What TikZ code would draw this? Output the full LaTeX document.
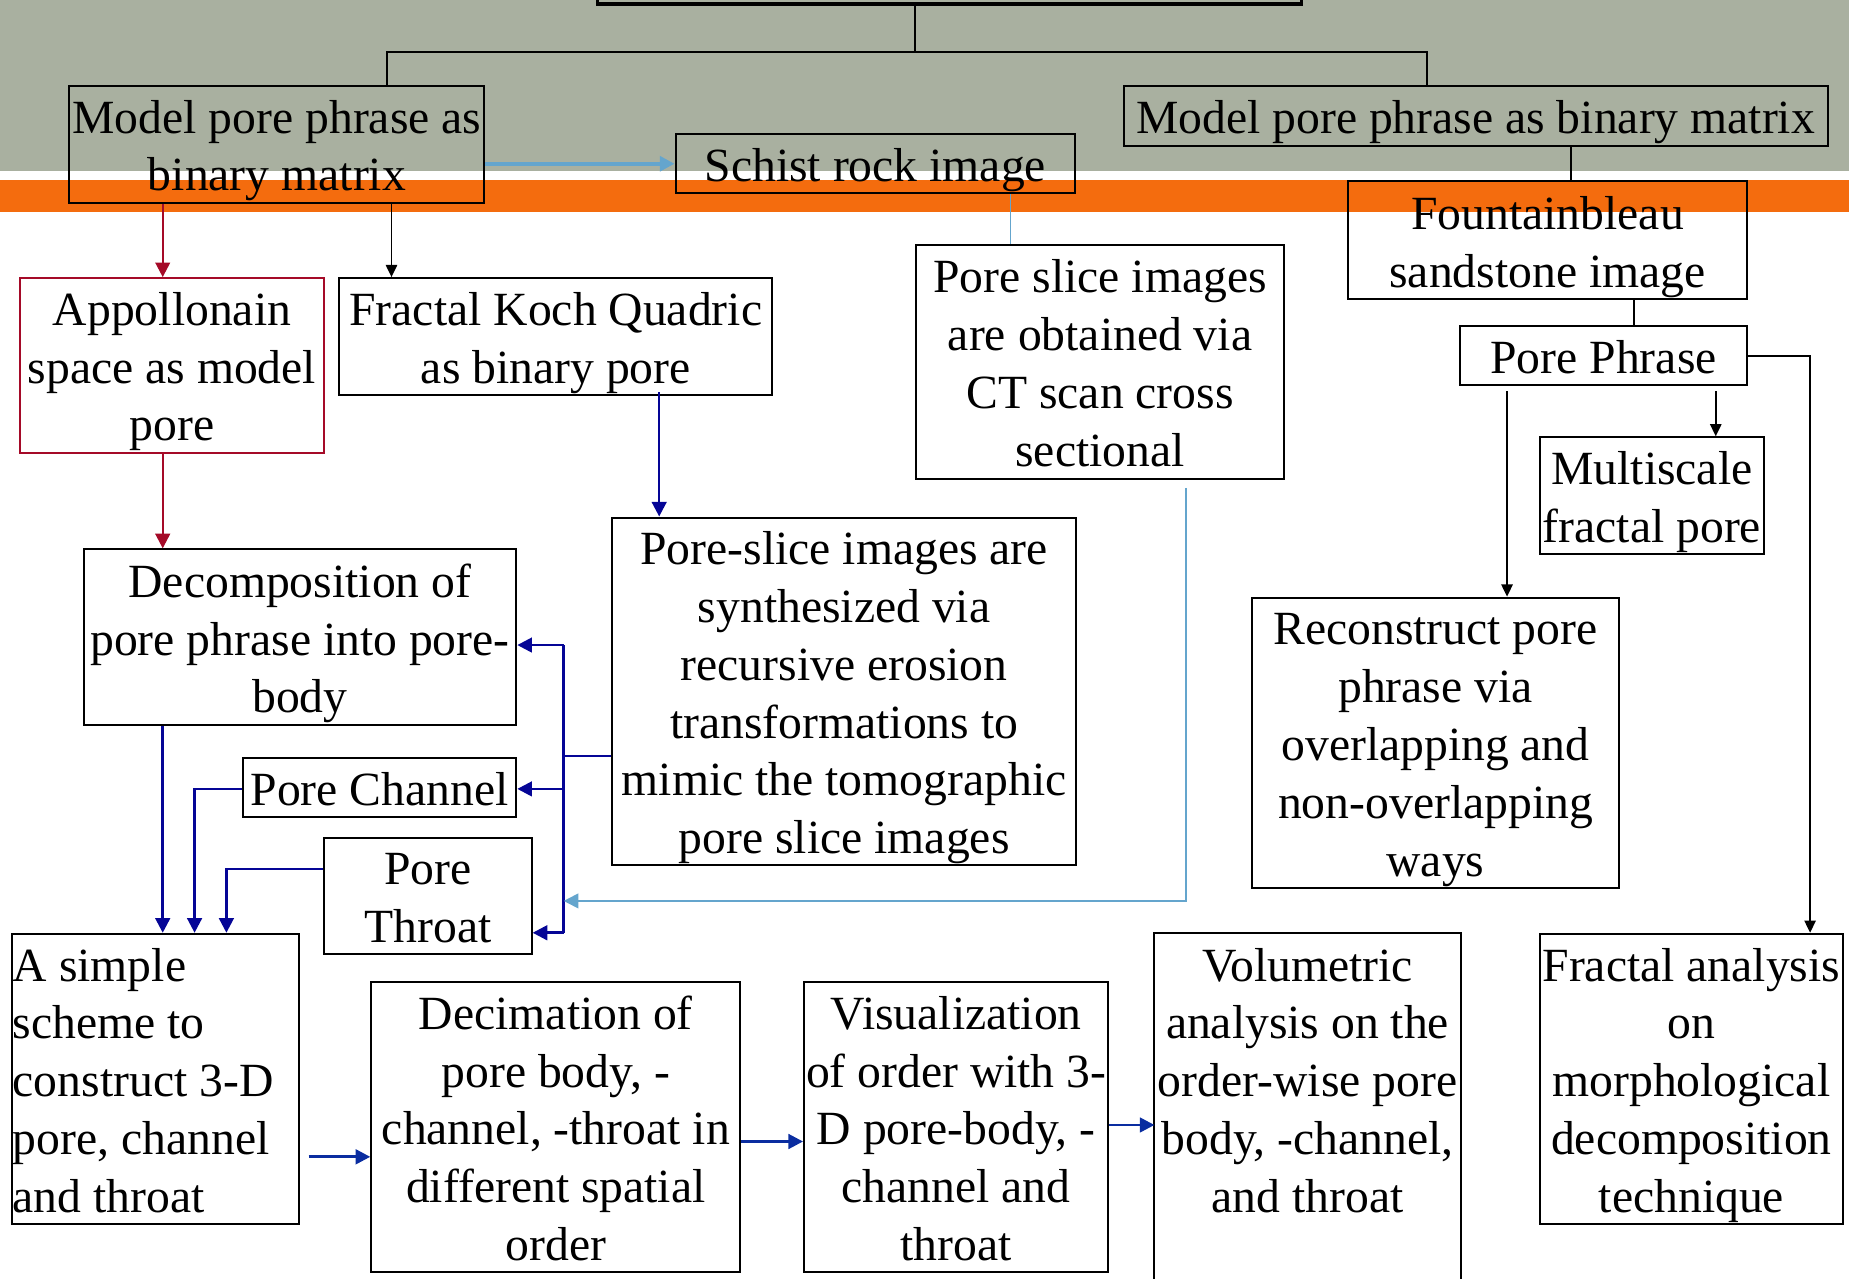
\documentclass[tikz,border=0pt]{standalone}
\usepackage{fontspec}
\setmainfont{Liberation Serif}
\usetikzlibrary{arrows.meta,calc}
\newcommand\fs{\fontsize{20.2pt}{24.5pt}\selectfont}
\newcommand\mys{\vrule width0pt height19.8pt depth4.7pt\relax}
\definecolor{bandgray}{RGB}{169,176,160}
\definecolor{bandorange}{RGB}{244,108,14}
\definecolor{navy}{RGB}{5,5,150}
\definecolor{midblue}{RGB}{10,45,160}
\definecolor{lblue}{RGB}{100,165,205}
\definecolor{dred}{RGB}{165,10,40}
\tikzset{
  box/.style={draw, line width=0.85pt, anchor=north west, inner xsep=0.5pt, inner ysep=0pt,
    align=center, font=\fs},
  arr/.style={-{Triangle[length=6.2pt,width=6.2pt]}},
  sarr/.style={-{Triangle[length=5.2pt,width=4.8pt]}},
  blk/.style={draw=black, line width=0.8pt},
  nv/.style={draw=navy, line width=1.1pt},
  mb/.style={draw=midblue, line width=1.2pt},
  lb/.style={draw=lblue, line width=0.8pt},
  rd/.style={draw=dred, line width=1pt}
}
\begin{document}
\begin{tikzpicture}[x=0.5pt,y=-0.5pt]
\fill[bandgray] (0,0) rectangle (1568,145);
\fill[bandorange] (0,153) rectangle (1568,179.5);
\useasboundingbox (0,0) rectangle (1568,1084);

% nodes
\node[box, line width=1.4pt, minimum width=298.5pt, minimum height=31pt] (root) at (505,-60) {};
\node[box, minimum width=176pt, minimum height=49.5pt] (modelL) at (58,72) {\mys Model pore phrase as\\binary matrix\mys};
\node[box, minimum width=298.5pt, minimum height=25.5pt] (modelR) at (952,72) {\mys Model pore phrase as binary matrix\mys};
\node[box, minimum width=169.5pt, minimum height=25pt] (schist) at (572,113) {\mys Schist rock image\mys};
\node[box, minimum width=169.5pt, minimum height=50pt] (fount) at (1142,153) {\mys Fountainbleau\\sandstone image\mys};
\node[box, minimum width=156pt, minimum height=99pt] (slice) at (776,207) {\mys Pore slice images\\are obtained via\\CT scan cross\\sectional\mys};
\node[box, draw=dred, minimum width=129pt, minimum height=74pt] (appol) at (16,235) {\mys Appollonain\\space as model\\pore\mys};
\node[box, minimum width=183.5pt, minimum height=49.5pt] (koch) at (287,235) {\mys Fractal Koch Quadric\\as binary pore\mys};
\node[box, minimum width=122pt, minimum height=25pt] (phrase) at (1237,276) {\mys Pore Phrase\mys};
\node[box, minimum width=95pt, minimum height=49.5pt] (multi) at (1305,370) {\mys Multiscale\\fractal pore\mys};
\node[box, minimum width=197pt, minimum height=147.5pt] (synth) at (518,438) {\mys Pore-slice images are\\synthesized via\\recursive erosion\\transformations to\\mimic the tomographic\\pore slice images\mys};
\node[box, minimum width=183.5pt, minimum height=74.5pt] (decomp) at (70,465) {\mys Decomposition of\\pore phrase into pore-\\body\mys};
\node[box, minimum width=155.5pt, minimum height=123pt] (recon) at (1061,506) {\mys Reconstruct pore\\phrase via\\overlapping and\\non-overlapping\\ways\mys};
\node[box, minimum width=116pt, minimum height=25pt] (channel) at (205,642) {\mys Pore Channel\mys};
\node[box, minimum width=88pt, minimum height=49pt] (throat) at (274,710) {\mys Pore\\Throat\mys};
\node[box, align=flush left, text width=121pt, minimum height=123pt] (simple) at (9,791) {\mys A simple\\scheme to\\construct 3-D\\pore, channel\\and throat\mys};
\node[box, minimum width=156.5pt, minimum height=123pt] (decim) at (314,832) {\mys Decimation of\\pore body, -\\channel, -throat in\\different spatial\\order\mys};
\node[box, minimum width=129pt, minimum height=123pt] (visual) at (681,832) {\mys Visualization\\of order with 3-\\D pore-body, -\\channel and\\throat\mys};
\node[box, draw=none, minimum width=129pt, minimum height=123pt] (vol) at (979,791) {\mys Volumetric\\analysis on the\\order-wise pore\\body, -channel,\\and throat\mys};
\draw[line width=0.85pt] (vol.north west) rectangle ($(vol.south east)+(0,80)$);
\node[box, minimum width=128.5pt, minimum height=123pt] (fractal) at (1305,791) {\mys Fractal analysis\\on\\morphological\\decomposition\\technique\mys};

% helper coordinates
\coordinate (hub) at (776,44);
\coordinate (hl) at (328,44);
\coordinate (hr) at (1210,44);
\coordinate (x138) at (138,0);
\coordinate (x165) at (165,0);
\coordinate (x192) at (192,0);
\coordinate (x332) at (332,0);
\coordinate (x559) at (559,0);
\coordinate (x857) at (857,0);
\coordinate (x1006) at (1006,0);
\coordinate (x1278) at (1278,0);
\coordinate (x1332) at (1332,0);
\coordinate (x1386) at (1386,0);
\coordinate (x1455) at (1455,0);
\coordinate (x1535) at (1535,0);
\coordinate (y737) at (0,737);
\coordinate (y641) at (0,641);
\coordinate (y981) at (0,981);
\coordinate (y968) at (0,968);
\coordinate (y954) at (0,954);
\coordinate (b1) at (478,547);
\coordinate (b2) at (478,669);
\coordinate (b3) at (478,791);
\coordinate (b4) at (478,764);
\coordinate (b0) at (478,641);

% top tree
\draw[blk] (root.south -| hub) -- (hub);
\draw[blk] (modelL.north -| hl) -- (hl) -- (hr) -- (modelR.north -| hr);
\draw[blk] (modelR.south -| x1332) -- (fount.north -| x1332);
\draw[draw=lblue, line width=1.6pt, arr] (schist.west -| modelL.east) -- (schist.west);
\draw[lb, line width=0.6pt] (schist.south -| x857) -- (slice.north -| x857);

% left branch
\draw[rd, arr] (modelL.south -| x138) -- (appol.north -| x138);
\draw[blk, sarr] (modelL.south -| x332) -- (koch.north -| x332);
\draw[rd, arr] (appol.south -| x138) -- (decomp.north -| x138);
\draw[nv, arr] ($(koch.south -| x559)+(0,-3)$) -- (synth.north -| x559);

% bus
\draw[nv] (synth.west |- y641) -- (b0);
\draw[nv] (b1) -- (b3);
\draw[nv, arr] (b1) -- (decomp.east |- b1);
\draw[nv, arr] (b2) -- (channel.east |- b2);
\draw[nv, arr] (b3) -- (throat.east |- b3);
\draw[lb, arr] ($(slice.south -| x1006)+(0,7)$) |- (b4);

\draw[nv, arr] (decomp.south -| x138) -- (simple.north -| x138);
\draw[nv, arr] (channel.west |- b2) -| (simple.north -| x165);
\draw[nv, arr] (throat.west |- y737) -| (simple.north -| x192);

% bottom chain
\draw[mb, arr] ($(simple.east |- y981)+(7,0)$) -- (decim.west |- y981);
\draw[mb, arr] (decim.east |- y968) -- (visual.west |- y968);
\draw[mb, arr] (visual.east |- y954) -- (vol.west |- y954);

% right branch
\draw[blk] (fount.south -| x1386) -- (phrase.north -| x1386);
\draw[blk, sarr] ($(phrase.south -| x1455)+(0,4)$) -- (multi.north -| x1455);
\draw[blk, sarr] ($(phrase.south -| x1278)+(0,4)$) -- (recon.north -| x1278);
\draw[blk, sarr] (phrase.east) -| (fractal.north -| x1535);
\end{tikzpicture}
\end{document}
